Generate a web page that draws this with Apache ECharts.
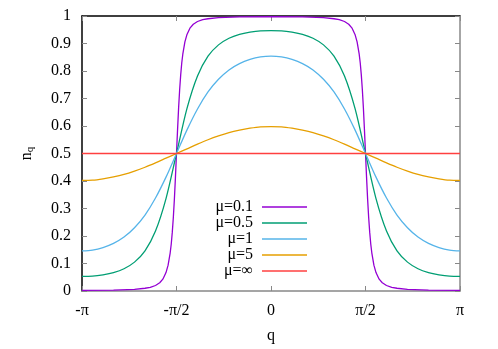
<!DOCTYPE html>
<html>
<head>
<meta charset="utf-8">
<script src="https://cdn.jsdelivr.net/npm/echarts@6/dist/echarts.min.js"></script>
<style>
  html, body { margin: 0; padding: 0; background: #fff; }
  #chart { width: 498px; height: 349px; }
</style>
</head>
<body>
<div id="chart"></div>
<script>
// q in degrees (axis labelled in units of pi)
var qGrid = [-180,-170,-160,-150,-140,-130,-120,-110,-100,-90,-80,-70,-60,-50,-40,-30,-20,-10,
             0,10,20,30,40,50,60,70,80,90,100,110,120,130,140,150,160,170,180];
var nMu05 = [0.053,0.054,0.059,0.067,0.081,0.105,0.146,0.218,0.336,0.5,0.664,0.782,0.854,0.895,0.919,0.933,0.941,0.946,
             0.947,0.946,0.941,0.933,0.919,0.895,0.854,0.782,0.664,0.5,0.336,0.218,0.146,0.105,0.081,0.067,0.059,0.054,0.053];
var nMu1  = [0.146,0.149,0.158,0.173,0.196,0.230,0.276,0.338,0.414,0.5,0.586,0.662,0.724,0.770,0.804,0.827,0.842,0.851,
             0.854,0.851,0.842,0.827,0.804,0.770,0.724,0.662,0.586,0.5,0.414,0.338,0.276,0.230,0.196,0.173,0.158,0.149,0.146];
var nMu5  = [0.402,0.403,0.408,0.415,0.424,0.436,0.450,0.466,0.483,0.5,0.517,0.534,0.550,0.564,0.576,0.585,0.592,0.597,
             0.598,0.597,0.592,0.585,0.576,0.564,0.550,0.534,0.517,0.5,0.483,0.466,0.450,0.436,0.424,0.415,0.408,0.403,0.402];

// the mu=0.1 curve is steep near +-pi/2, so it gets its own finer grid
var qSharp = [-180,-150,-130,-120,-115,-110,-106,-103,-100,-98,-96,-95,-94,-93,-92,-91,-90,-89,-88,-87,-86,-85,-84,-82,-80,-77,-74,-70,-65,-60,-50,-30,
              0,30,50,60,65,70,74,77,80,82,84,85,86,87,88,89,90,91,92,93,94,95,96,98,100,103,106,110,115,120,130,150,180];
var nMu01 = [0.002,0.003,0.006,0.010,0.013,0.020,0.030,0.043,0.067,0.094,0.139,0.171,0.214,0.268,0.335,0.414,0.5,0.586,0.665,0.732,0.786,0.829,0.861,0.906,0.933,0.957,0.970,0.980,0.987,0.990,0.994,0.997,
             0.998,0.997,0.994,0.990,0.987,0.980,0.970,0.957,0.933,0.906,0.861,0.829,0.786,0.732,0.665,0.586,0.5,0.414,0.335,0.268,0.214,0.171,0.139,0.094,0.067,0.043,0.030,0.020,0.013,0.010,0.006,0.003,0.002];

var qFlat = [-180, 180];
var nMuInf = [0.5, 0.5];

var names = ['μ=0.1', 'μ=0.5', 'μ=1', 'μ=5', 'μ=∞'];
var colors = ['#9400d3', '#009e73', '#56b4e9', '#e69f00', '#ff4040'];
var xTickLabels = {'-180': '-π', '-90': '-π/2', '0': '0', '90': 'π/2', '180': 'π'};

function pairs(xs, ys) {
    var out = [];
    for (var i = 0; i < xs.length; i++) out.push([xs[i], ys[i]]);
    return out;
}

var font = '"Liberation Serif", "Times New Roman", serif';
var chart = echarts.init(document.getElementById('chart'));

function lineSeries(i, data, smooth) {
    return {
        name: names[i],
        type: 'line',
        data: data,
        showSymbol: false,
        symbol: 'none',
        smooth: smooth,
        lineStyle: { color: colors[i], width: 1.3 },
        itemStyle: { color: colors[i] },
        animation: false,
        z: 3
    };
}

var tickStyle = { show: true, inside: true, length: 5, lineStyle: { color: '#888', width: 1 } };

chart.setOption({
    animation: false,
    textStyle: { fontFamily: font },
    grid: { left: 82, right: 38, top: 16, bottom: 53 },
    legend: {
        orient: 'vertical',
        left: 203,
        top: 194,
        align: 'right',
        itemGap: 0,
        itemWidth: 45,
        itemHeight: 1.5,
        icon: 'rect',
        data: names,
        formatter: function (n) { return '{a|' + n + '}'; },
        textStyle: {
            fontFamily: font,
            fontSize: 16,
            color: '#000',
            rich: { a: { width: 45, align: 'right', lineHeight: 16.75, fontSize: 16, fontFamily: font, padding: [0, 4, 0, 0] } }
        }
    },
    xAxis: [{
        type: 'value',
        min: -180, max: 180, interval: 90,
        name: 'q',
        nameLocation: 'middle',
        nameGap: 37,
        nameTextStyle: { fontFamily: font, fontSize: 16, color: '#000' },
        axisLine: { show: true, onZero: false, lineStyle: { color: '#888', width: 1.5 } },
        axisTick: tickStyle,
        splitLine: { show: false },
        axisLabel: {
            margin: 12,
            fontFamily: font, fontSize: 16, color: '#000',
            formatter: function (v) { return xTickLabels[String(v)]; }
        }
    }, {
        type: 'value', position: 'top',
        min: -180, max: 180, interval: 90,
        axisLine: { show: true, onZero: false, lineStyle: { color: '#000', width: 1.5 } },
        axisTick: tickStyle,
        axisLabel: { show: false },
        splitLine: { show: false }
    }],
    yAxis: [{
        type: 'value',
        min: 0, max: 1, interval: 0.1,
        name: '{n|n}{s|q}',
        nameLocation: 'middle',
        nameRotate: 90,
        nameGap: 46,
        nameTextStyle: {
            color: '#000',
            rich: {
                n: { fontFamily: font, fontSize: 16, color: '#000' },
                s: { fontFamily: font, fontSize: 11, color: '#000', verticalAlign: 'bottom', padding: [8, 0, 0, 0] }
            }
        },
        axisLine: { show: true, onZero: false, lineStyle: { color: '#000', width: 1.5 } },
        axisTick: tickStyle,
        splitLine: { show: false },
        axisLabel: {
            margin: 11,
            fontFamily: font, fontSize: 16, color: '#000',
            formatter: function (v) { return String(Math.round(v * 10) / 10); }
        }
    }, {
        type: 'value', position: 'right',
        min: 0, max: 1, interval: 0.1,
        axisLine: { show: true, onZero: false, lineStyle: { color: '#888', width: 1.5 } },
        axisTick: tickStyle,
        axisLabel: { show: false },
        splitLine: { show: false }
    }],
    series: [
        lineSeries(0, pairs(qSharp, nMu01), false),
        lineSeries(1, pairs(qGrid, nMu05), 0.3),
        lineSeries(2, pairs(qGrid, nMu1), 0.3),
        lineSeries(3, pairs(qGrid, nMu5), 0.3),
        lineSeries(4, pairs(qFlat, nMuInf), false)
    ]
});
</script>
</body>
</html>
